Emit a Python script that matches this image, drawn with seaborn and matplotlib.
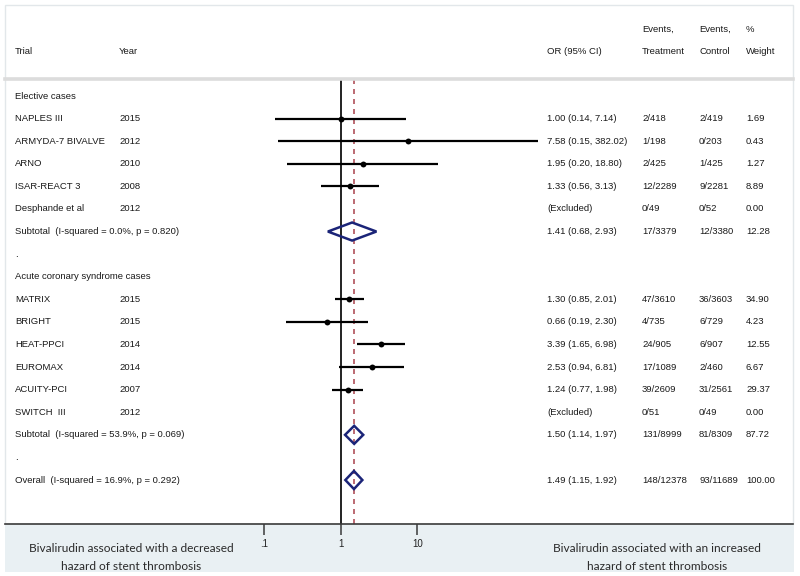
import matplotlib
matplotlib.use("Agg")
import matplotlib.pyplot as plt
import matplotlib.transforms as mtrans
from matplotlib.patches import Rectangle, Polygon
from matplotlib.ticker import NullLocator
import numpy as np
import pandas as pd
import seaborn as sns

# ---------------- data ----------------
labels = ["Elective cases", "NAPLES III", "ARMYDA-7 BIVALVE", "ARNO", "ISAR-REACT 3",
          "Desphande et al", "Subtotal  (I-squared = 0.0%, p = 0.820)", ".",
          "Acute coronary syndrome cases", "MATRIX", "BRIGHT", "HEAT-PPCI", "EUROMAX",
          "ACUITY-PCI", "SWITCH  III", "Subtotal  (I-squared = 53.9%, p = 0.069)", ".",
          "Overall  (I-squared = 16.9%, p = 0.292)"]
years = ["", "2015", "2012", "2010", "2008", "2012", "", "", "", "2015", "2015", "2014",
         "2014", "2007", "2012", "", "", ""]
kinds = ["head", "study", "study", "study", "study", "excl", "sub", "blank", "head",
         "study", "study", "study", "study", "study", "excl", "sub", "blank", "sub"]
odds = [np.nan, 1.00, 7.58, 1.95, 1.33, np.nan, 1.41, np.nan, np.nan, 1.30, 0.66, 3.39,
        2.53, 1.24, np.nan, 1.50, np.nan, 1.49]
ci_low = [np.nan, 0.14, 0.15, 0.20, 0.56, np.nan, 0.68, np.nan, np.nan, 0.85, 0.19, 1.65,
          0.94, 0.77, np.nan, 1.14, np.nan, 1.15]
ci_high = [np.nan, 7.14, 382.02, 18.80, 3.13, np.nan, 2.93, np.nan, np.nan, 2.01, 2.30,
           6.98, 6.81, 1.98, np.nan, 1.97, np.nan, 1.92]
or_text = ["", "1.00 (0.14, 7.14)", "7.58 (0.15, 382.02)", "1.95 (0.20, 18.80)",
           "1.33 (0.56, 3.13)", "(Excluded)", "1.41 (0.68, 2.93)", "", "",
           "1.30 (0.85, 2.01)", "0.66 (0.19, 2.30)", "3.39 (1.65, 6.98)",
           "2.53 (0.94, 6.81)", "1.24 (0.77, 1.98)", "(Excluded)", "1.50 (1.14, 1.97)",
           "", "1.49 (1.15, 1.92)"]
events_treat = ["", "2/418", "1/198", "2/425", "12/2289", "0/49", "17/3379", "", "",
                "47/3610", "4/735", "24/905", "17/1089", "39/2609", "0/51", "131/8999",
                "", "148/12378"]
events_ctrl = ["", "2/419", "0/203", "1/425", "9/2281", "0/52", "12/3380", "", "",
               "36/3603", "6/729", "6/907", "2/460", "31/2561", "0/49", "81/8309",
               "", "93/11689"]
weights = ["", "1.69", "0.43", "1.27", "8.89", "0.00", "12.28", "", "", "34.90", "4.23",
           "12.55", "6.67", "29.37", "0.00", "87.72", "", "100.00"]
headers = ["Trial", "Year", "OR (95% CI)", "Events,\nTreatment", "Events,\nControl",
           "%\nWeight"]
tick_values = [0.1, 1, 10]
tick_labels = [".1", "1", "10"]
left_note = ["Bivalirudin associated with a decreased", "hazard of stent thrombosis"]
right_note = ["Bivalirudin associated with an increased", "hazard of stent thrombosis"]

df = pd.DataFrame({"label": labels, "year": years, "kind": kinds, "or": odds,
                   "lo": ci_low, "hi": ci_high, "ortxt": or_text, "et": events_treat,
                   "ec": events_ctrl, "w": weights})
df["row"] = np.arange(len(df))
overall_or = df.loc[df.index[-1], "or"]

# ---------------- style ----------------
sns.set_theme(style="white")
plt.rcParams["font.family"] = ["Liberation Sans", "DejaVu Sans"]

W, H = 800, 576
fig = plt.figure(figsize=(8, 5.76), dpi=100)
fig.patch.set_facecolor("white")


def fx(px):
    return px / W


def fy(py):
    return 1 - py / H


# panel and lower band
fig.add_artist(Rectangle((fx(5), fy(524)), fx(793) - fx(5), fy(5) - fy(524),
                         transform=fig.transFigure, facecolor="white",
                         edgecolor="#e2e7ea", lw=1.0, zorder=0))
fig.add_artist(Rectangle((fx(5), fy(572)), fx(794) - fx(5), fy(524) - fy(572),
                         transform=fig.transFigure, facecolor="#e9f0f3",
                         edgecolor="none", zorder=0))

ax_left, ax_right, ax_top, ax_bot = 5, 793, 79, 524
ax = fig.add_axes([fx(ax_left), fy(ax_bot), fx(ax_right) - fx(ax_left),
                   fy(ax_top) - fy(ax_bot)])
ax.set_facecolor("none")
ax.set_xscale("log")
x_one, decade = 340.7, 76.5
ax.set_xlim(10 ** ((ax_left - x_one) / decade), 10 ** ((ax_right - x_one) / decade))
row0_px, row_step = 96.0, 22.59
ax.set_ylim((ax_bot - row0_px) / row_step, (ax_top - row0_px) / row_step)

for s in ["left", "right"]:
    ax.spines[s].set_visible(False)
ax.spines["top"].set_color("#dcdcdc")
ax.spines["top"].set_linewidth(2.6)
ax.spines["bottom"].set_color("#3a3a3a")
ax.spines["bottom"].set_linewidth(1.2)

ax.axvline(1, color="#111111", lw=1.3, zorder=2)
ax.axvline(overall_or, color="#b0505a", lw=1.2, ls=(0, (3, 3)), zorder=2)

studies = df[df["kind"] == "study"]
ax.hlines(studies["row"], studies["lo"], studies["hi"], color="black", lw=1.6, zorder=3)
sns.scatterplot(data=studies, x="or", y="row", color="black", s=18, edgecolor="black",
                linewidth=0, legend=False, ax=ax, zorder=4)

dh = 0.40
for _, r in df[df["kind"] == "sub"].iterrows():
    poly = Polygon([(r["lo"], r["row"]), (r["or"], r["row"] - dh), (r["hi"], r["row"]),
                    (r["or"], r["row"] + dh)], closed=True, fill=False,
                   edgecolor="#1b2478", lw=1.8, zorder=5)
    ax.add_patch(poly)

ax.set_xlabel("")
ax.set_ylabel("")
ax.set_yticks([])
ax.set_xticks(tick_values)
ax.set_xticklabels(tick_labels)
ax.xaxis.set_minor_locator(NullLocator())
ax.tick_params(axis="x", direction="out", length=8, width=1.1, color="#3a3a3a",
               labelsize=7, pad=2.5, labelcolor="#222222", bottom=True)

# ---------------- text columns ----------------
tr = mtrans.blended_transform_factory(fig.transFigure, ax.transData)
fs = 6.8
col_x = {"label": 15, "year": 119, "ortxt": 547, "et": 642, "ec": 699, "w": 746}
for _, r in df.iterrows():
    for col, px in col_x.items():
        t = r[col]
        if t:
            ax.text(fx(px), r["row"], t, transform=tr, ha="left", va="center",
                    fontsize=fs, color="#1a1a1a", clip_on=False)

hdr_x = [15, 119, 547, 642, 699, 746]
for h, px in zip(headers, hdr_x):
    lines = h.split("\n")
    if len(lines) == 2:
        fig.text(fx(px), fy(29), lines[0], ha="left", va="center", fontsize=fs,
                 color="#1a1a1a")
    fig.text(fx(px), fy(51), lines[-1], ha="left", va="center", fontsize=fs,
             color="#1a1a1a")

for note, cx in [(left_note, 131), (right_note, 657)]:
    fig.text(fx(cx), fy(548), note[0], ha="center", va="center", fontsize=8.6,
             family=["Lato", "DejaVu Sans"], color="#2a2a2a")
    fig.text(fx(cx), fy(567), note[1], ha="center", va="center", fontsize=8.6,
             family=["Lato", "DejaVu Sans"], color="#2a2a2a")

fig.add_artist(Rectangle((0, 0), 1, fy(572), transform=fig.transFigure,
                         facecolor="white", edgecolor="none", zorder=20))

fig.savefig("out.png", dpi=100)
